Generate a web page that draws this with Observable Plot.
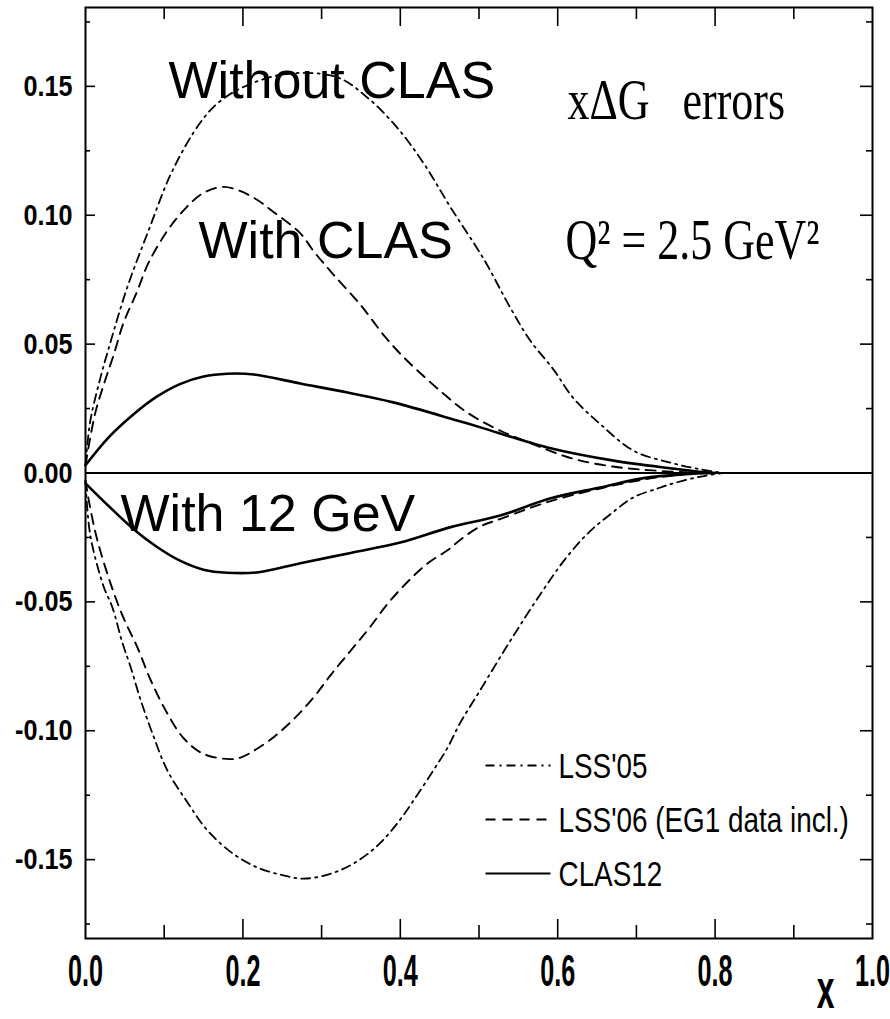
<!DOCTYPE html>
<html><head><meta charset="utf-8">
<script src="https://cdn.jsdelivr.net/npm/d3@7"></script>
<script src="https://cdn.jsdelivr.net/npm/@observablehq/plot@0.6"></script>
<style>html,body{margin:0;padding:0;background:#fff} #chart svg{display:block}</style>
</head><body><div id="chart"></div>
<script>
// ---- data (x, error on x·ΔG) ----
const lss05Upper = [[0,0.003],[0.006,0.02],[0.019,0.037],[0.032,0.051],[0.053,0.072],[0.08,0.094],[0.11,0.117],[0.146,0.136],[0.172,0.1445],[0.21,0.151],[0.26,0.155],[0.32,0.1535],[0.358,0.1457],[0.396,0.134],[0.43,0.12],[0.464,0.103],[0.506,0.083],[0.54,0.064],[0.565,0.0514],[0.595,0.04],[0.62,0.029],[0.654,0.019],[0.696,0.0087],[0.743,0.004],[0.78,0.0015],[0.81,0]];
const lss05Lower = [[0,-0.003],[0.006,-0.024],[0.023,-0.044],[0.034,-0.052],[0.047,-0.066],[0.057,-0.075],[0.07,-0.088],[0.085,-0.101],[0.104,-0.1154],[0.13,-0.128],[0.155,-0.1387],[0.188,-0.1478],[0.218,-0.153],[0.25,-0.156],[0.277,-0.1574],[0.311,-0.1555],[0.34,-0.1516],[0.371,-0.1446],[0.396,-0.136],[0.417,-0.127],[0.442,-0.1154],[0.46,-0.1066],[0.476,-0.097],[0.5,-0.085],[0.54,-0.065],[0.578,-0.047],[0.608,-0.034],[0.638,-0.0235],[0.667,-0.016],[0.696,-0.0095],[0.727,-0.006],[0.747,-0.004],[0.78,-0.0015],[0.81,0]];
const lss06Upper = [[0,0.003],[0.005,0.012],[0.013,0.024],[0.025,0.036],[0.036,0.046],[0.048,0.058],[0.065,0.07],[0.08,0.0815],[0.104,0.094],[0.125,0.102],[0.148,0.1083],[0.174,0.111],[0.195,0.1096],[0.218,0.106],[0.24,0.101],[0.273,0.093],[0.29,0.086],[0.315,0.077],[0.35,0.065],[0.381,0.0527],[0.404,0.045],[0.428,0.038],[0.454,0.031],[0.476,0.0254],[0.498,0.021],[0.53,0.016],[0.57,0.011],[0.62,0.0055],[0.67,0.0025],[0.72,0.001],[0.78,0]];
const lss06Lower = [[0,-0.003],[0.005,-0.012],[0.015,-0.026],[0.032,-0.043],[0.048,-0.056],[0.066,-0.0677],[0.083,-0.0805],[0.104,-0.0933],[0.125,-0.103],[0.15,-0.109],[0.184,-0.111],[0.197,-0.1104],[0.218,-0.107],[0.241,-0.102],[0.265,-0.0954],[0.29,-0.087],[0.311,-0.0786],[0.337,-0.0689],[0.36,-0.0604],[0.384,-0.0507],[0.41,-0.042],[0.435,-0.035],[0.46,-0.03],[0.476,-0.026],[0.5,-0.021],[0.53,-0.0175],[0.59,-0.011],[0.654,-0.006],[0.72,-0.002],[0.78,0]];
const clas12Upper = [[0,0.003],[0.03,0.014],[0.06,0.0225],[0.09,0.0295],[0.12,0.0345],[0.15,0.0374],[0.18,0.0385],[0.214,0.0382],[0.273,0.0347],[0.333,0.0312],[0.391,0.0274],[0.472,0.0204],[0.502,0.0177],[0.587,0.0099],[0.671,0.0048],[0.747,0.0017],[0.78,0.0005],[0.8,0]];
const clas12Lower = [[0,-0.004],[0.03,-0.013],[0.06,-0.0215],[0.09,-0.0285],[0.12,-0.034],[0.15,-0.0375],[0.18,-0.0387],[0.22,-0.0385],[0.273,-0.035],[0.337,-0.031],[0.4,-0.027],[0.464,-0.021],[0.527,-0.0165],[0.59,-0.0099],[0.654,-0.0056],[0.709,-0.002],[0.76,-0.0005],[0.8,0]];

const seriesNames = ["LSS'05", "LSS'06 (EG1 data incl.)", "CLAS12"];
const xTickLabels = [0, 0.2, 0.4, 0.6, 0.8, 1.0];
const xMajorTicks = [0.2, 0.4, 0.6, 0.8];
const xMinorTicks = [0.1, 0.3, 0.5, 0.7, 0.9];
const yTickLabels = [-0.15, -0.10, -0.05, 0.00, 0.05, 0.10, 0.15];
const yMinorTicks = [-0.175, -0.125, -0.075, -0.025, 0.025, 0.075, 0.125, 0.175];
const annotationTexts = ["Without CLAS", "With CLAS", "With 12 GeV"];
const titleTexts = ["x\u0394G   errors", "Q\u00b2 = 2.5 GeV\u00b2"];
const axisLabelText = "x";

// ---- layout / styles ----
const W = 890, H = 1019;
const mL = 85, mR = 18, mT = 7, mB = 81;
const plotW = W - mL - mR, plotH = H - mT - mB;
const sans = "'Liberation Sans', Arial, sans-serif";
const curveSeries = [
  {name: seriesNames[0], upper: lss05Upper, lower: lss05Lower, dash: "9,5,2,5", sw: 1.8},
  {name: seriesNames[1], upper: lss06Upper, lower: lss06Lower, dash: "10,7", sw: 1.9},
  {name: seriesNames[2], upper: clas12Upper, lower: clas12Lower, dash: null, sw: 2.6}
];
const xs = d3.scaleLinear().domain([0, 1]).range([mL, W - mR]);
const ys = d3.scaleLinear().domain([-0.1806, 0.1806]).range([H - mB, mT]);
const px2x = p => xs.invert(p), px2y = p => ys.invert(p);

const marks = [];
for (const s of curveSeries) {
  for (const part of [s.upper, s.lower]) {
    marks.push(Plot.line(part, {curve: "catmull-rom", stroke: "black", strokeWidth: s.sw, strokeDasharray: s.dash || undefined}));
  }
}
marks.push(Plot.ruleY([0], {stroke: "black", strokeWidth: 2}));
marks.push(Plot.frame({stroke: "black", strokeWidth: 2}));
// inward ticks on all four sides
marks.push(Plot.tickY(yTickLabels, {insetRight: plotW - 10, strokeWidth: 1.6}));
marks.push(Plot.tickY(yMinorTicks, {insetRight: plotW - 5, strokeWidth: 1.6}));
marks.push(Plot.tickY(yTickLabels, {insetLeft: plotW - 12, strokeWidth: 1.6}));
marks.push(Plot.tickY(yMinorTicks, {insetLeft: plotW - 6, strokeWidth: 1.6}));
marks.push(Plot.tickX(xMajorTicks, {insetTop: plotH - 19, strokeWidth: 1.6}));
marks.push(Plot.tickX(xMinorTicks, {insetTop: plotH - 13, strokeWidth: 1.6}));
marks.push(Plot.tickX(xMajorTicks, {insetBottom: plotH - 19, strokeWidth: 1.6}));
marks.push(Plot.tickX(xMinorTicks, {insetBottom: plotH - 12, strokeWidth: 1.6}));
// tick labels
marks.push(Plot.axisY({ticks: yTickLabels, tickSize: 0, tickPadding: 13, tickFormat: d => d.toFixed(2), fontFamily: sans, fontWeight: "bold", fontSize: 30, label: null}));
marks.push(Plot.axisX({ticks: xTickLabels, tickSize: 0, tickPadding: 17, tickFormat: d => d.toFixed(1), fontFamily: sans, fontWeight: "bold", fontSize: 30, label: null}));
marks.push(Plot.text([axisLabelText], {frameAnchor: "bottom-right", dx: -46, dy: 62, text: d => d, fontFamily: sans, fontWeight: "bold", fontSize: 38}));
// annotations
const annPos = [[168, 80.4], [198, 240.4], [120, 513.4]];
marks.push(Plot.text(annotationTexts, {x: (d, i) => px2x(annPos[i][0]), y: (d, i) => px2y(annPos[i][1]), text: d => d, textAnchor: "start", fontFamily: sans, fontSize: 52, fill: "black"}));
const titlePos = [[567, 100], [565, 240]];
marks.push(Plot.text(titleTexts, {x: (d, i) => px2x(titlePos[i][0]), y: (d, i) => px2y(titlePos[i][1]), text: d => d, textAnchor: "start", fontFamily: "'Liberation Serif', 'Times New Roman', serif", fontSize: 44, fill: "black"}));
// legend inside the frame
const legY = [765, 819, 873];
curveSeries.forEach((s, i) => {
  marks.push(Plot.link([s.name], {x1: () => px2x(485), x2: () => px2x(550), y1: () => px2y(legY[i]), y2: () => px2y(legY[i]), stroke: "black", strokeWidth: Math.min(s.sw, 2.2), strokeDasharray: s.dash || undefined}));
});
marks.push(Plot.text(seriesNames, {x: () => px2x(558), y: (d, i) => px2y(legY[i] + 1), text: d => d, textAnchor: "start", fontFamily: sans, fontSize: 34, fill: "black"}));

const plot = Plot.plot({
  width: W, height: H,
  marginLeft: mL, marginRight: mR, marginTop: mT, marginBottom: mB,
  x: {domain: [0, 1], axis: null},
  y: {domain: [-0.1806, 0.1806], axis: null},
  style: {background: "white", color: "black", overflow: "visible"},
  marks
});
document.getElementById("chart").appendChild(plot);

// condensed / stretched lettering as in the reference
function stretchEl(el, sx, sy, ox = 0, oy = 0) {
  let t = el.getAttribute("transform") || "";
  const ax = el.getAttribute("x"), ay = el.getAttribute("y");
  const nx = ax != null && ax !== "" && !isNaN(+ax);
  const ny = ay != null && ay !== "" && !isNaN(+ay);
  if (nx || ny || ox || oy) {
    t += ` translate(${(nx ? +ax : 0) + ox},${(ny ? +ay : 0) + oy})`;
    if (nx) el.removeAttribute("x");
    if (ny) el.removeAttribute("y");
  }
  el.setAttribute("transform", `${t} scale(${sx},${sy})`.trim());
}
const allText = Array.from(plot.querySelectorAll("text"));
for (const el of allText) {
  const s = el.textContent;
  const group = el.closest("g") ? el.closest("g").getAttribute("aria-label") : "";
  if (group === "y-axis tick label") stretchEl(el, 0.84, 1);
  else if (group === "x-axis tick label") stretchEl(el, 0.84, 1.45);
  else if (s === axisLabelText) stretchEl(el, 0.84, 1.45, 8, 7);
  else if (titleTexts.includes(s)) stretchEl(el, 1, 1.3);
  else if (seriesNames.includes(s)) stretchEl(el, 0.82, 1.05);
}
</script>
</body></html>
